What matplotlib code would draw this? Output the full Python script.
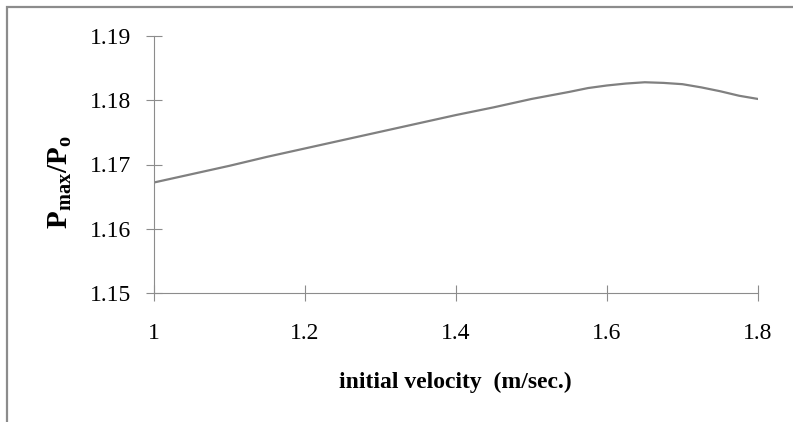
import numpy as np
import matplotlib
matplotlib.use('Agg')
import matplotlib.pyplot as plt
from matplotlib.patches import Rectangle

# values
velocity = [1.00, 1.05, 1.10, 1.15, 1.20, 1.25, 1.30, 1.35, 1.40, 1.45, 1.50,
            1.55, 1.575, 1.60, 1.625, 1.65, 1.675, 1.70, 1.725, 1.75, 1.775, 1.80]
pressure_ratio = [1.1672, 1.1685, 1.1698, 1.1712, 1.1725, 1.1738, 1.1751, 1.1764, 1.1777, 1.1789, 1.1802,
                  1.1813, 1.1819, 1.1823, 1.1826, 1.1828, 1.1827, 1.1825, 1.1820, 1.1814, 1.1807, 1.1802]
x_ticks = [1.0, 1.2, 1.4, 1.6, 1.8]
x_tick_labels = ['1', '1.2', '1.4', '1.6', '1.8']
y_ticks = [1.15, 1.16, 1.17, 1.18, 1.19]

plt.rcParams['font.family'] = 'Liberation Serif'
plt.rcParams['mathtext.fontset'] = 'custom'
plt.rcParams['mathtext.rm'] = 'Liberation Serif'
plt.rcParams['mathtext.bf'] = 'Liberation Serif:bold'

W, H = 793, 422
fig = plt.figure(figsize=(W / 100, H / 100), dpi=100)

# outer chart border (cut off on the right and bottom)
fig.patches.append(Rectangle((7 / W, -0.2), 1.2, 1.2 - 7 / H, transform=fig.transFigure,
                             fill=False, edgecolor='#8c8c8c', linewidth=1.6, clip_on=False))

ax = fig.add_axes([154 / W, 1 - 293 / H, 604 / W, 257 / H])
ax.plot(velocity, pressure_ratio, color='#808080', linewidth=1.6)

ax.set_xlim(1.0, 1.8)
ax.set_ylim(1.15, 1.19)
ax.set_xticks(x_ticks)
ax.set_xticklabels(x_tick_labels)
ax.set_yticks(y_ticks)
ax.set_yticklabels([f'{v:.2f}' for v in y_ticks])

for side in ['top', 'right']:
    ax.spines[side].set_visible(False)
for side in ['left', 'bottom']:
    ax.spines[side].set_color('#8c8c8c')
    ax.spines[side].set_linewidth(0.8)

ax.tick_params(axis='both', direction='inout', length=11, width=0.8, color='#8c8c8c',
               labelsize=17, labelcolor='black')
ax.tick_params(axis='y', pad=11)
ax.tick_params(axis='x', pad=16)

fig.text(455 / W, 1 - 382 / H, 'initial velocity  (m/sec.)', ha='center', va='center',
         fontsize=17, fontweight='bold')
fig.text(60 / W, 1 - 182 / H, r'$\mathbf{P_{max}/P_o}$', ha='center', va='center',
         rotation=90, fontsize=21)

fig.savefig('out.png', dpi=100)
